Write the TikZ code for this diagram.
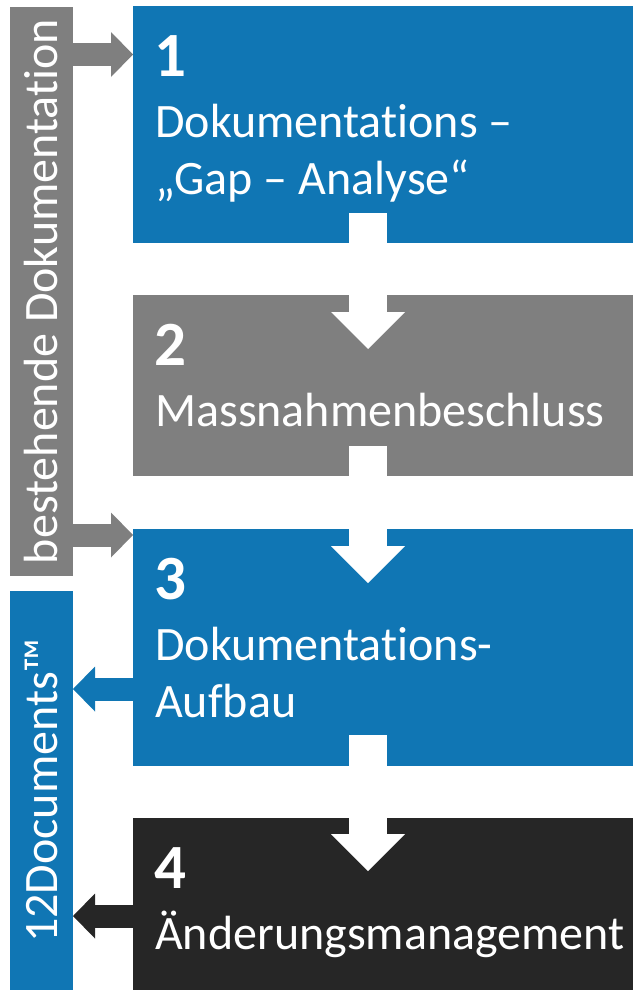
\documentclass[tikz,border=0pt]{standalone}
\usepackage{fontspec}
\setmainfont{Carlito}[Ligatures={NoCommon,NoContextual}]
\usetikzlibrary{arrows.meta,calc}
\definecolor{cblue}{RGB}{16,118,180}
\definecolor{cgray}{RGB}{127,127,127}
\definecolor{cdark}{RGB}{38,38,38}
\begin{document}
\begin{tikzpicture}[x=1pt,y=-1pt,
 box/.style={anchor=north west, inner sep=0pt, outer sep=0pt, minimum width=500pt},
 bar/.style={anchor=north west, inner sep=0pt, outer sep=0pt, minimum width=63pt},
 num/.style={anchor=base west, text=white, font=\fontsize{63}{75}\selectfont\bfseries, inner sep=0pt},
 lbl/.style={anchor=base west, text=white, font=\fontsize{48}{58}\selectfont, inner sep=0pt},
 vtxt/.style={rotate=90, text=white, font=\fontsize{48}{58}\selectfont, inner sep=0pt},
 down/.style={draw=white, line width=38pt, -{Triangle[width=74pt,length=37pt,line width=0pt]}},
 side/.style={line width=23pt, -{Triangle[width=45pt,length=22pt,line width=0pt]}},
]
\useasboundingbox (0,0) rectangle (633,993);
% boxes and bars
\node[box, fill=cblue, minimum height=237pt] (b1) at (133,6) {};
\node[box, fill=cgray, minimum height=181pt] (b2) at (133,295) {};
\node[box, fill=cblue, minimum height=237pt] (b3) at (133,529) {};
\node[box, fill=cdark, minimum height=172pt] (b4) at (133,818) {};
\node[bar, fill=cgray, minimum height=569pt] (gb) at (10,7) {};
\node[bar, fill=cblue, minimum height=399pt] (bb) at (10,591) {};
% side arrows
\draw[side, draw=cgray] ($(gb.north east)+(0,47.5)$) -- ($(b1.north west)+(0,48.5)$);
\draw[side, draw=cgray] ($(gb.north east)+(0,528)$) -- ($(b3.north west)+(0,6)$);
\draw[side, draw=cblue] ($(b3.north west)+(0,160)$) -- ($(bb.north east)+(0,98)$);
\draw[side, draw=cdark] ($(b4.north west)+(0,98)$) -- ($(bb.north east)+(0,325)$);
% down arrows
\draw[down] ($(b1.south west)+(235,-30)$) -- ($(b2.north west)+(235,54)$);
\draw[down] ($(b2.south west)+(235,-30)$) -- ($(b3.north west)+(235,54)$);
\draw[down] ($(b3.south west)+(235,-31)$) -- ($(b4.north west)+(235,53)$);
% texts
\node[num] (n1) at ($(b1.north west)+(21,70)$) {1};
\node[lbl] (t1a) at ($(b1.north west)+(22,131)$) {Dokumentations –};
\node[lbl] (t1b) at ($(b1.north west)+(22,188)$) {„Gap – Analyse“};
\node[num] (n2) at ($(b2.north west)+(21,70)$) {2};
\node[lbl] (t2) at ($(b2.north west)+(22,131)$) {Massnahmenbeschluss};
\node[num] (n3) at ($(b3.north west)+(21,70)$) {3};
\node[lbl] (t3a) at ($(b3.north west)+(22,131)$) {Dokumentations-};
\node[lbl] (t3b) at ($(b3.north west)+(22,188)$) {Aufbau};
\node[num] (n4) at ($(b4.north west)+(21,70)$) {4};
\node[lbl] (t4) at ($(b4.north west)+(22,131)$) {Änderungsmanagement};
\node[vtxt] (gt) at (gb.center) {bestehende Dokumentation};
\node[vtxt] (bt) at (bb.center) {12Documents™};
\end{tikzpicture}
\end{document}
